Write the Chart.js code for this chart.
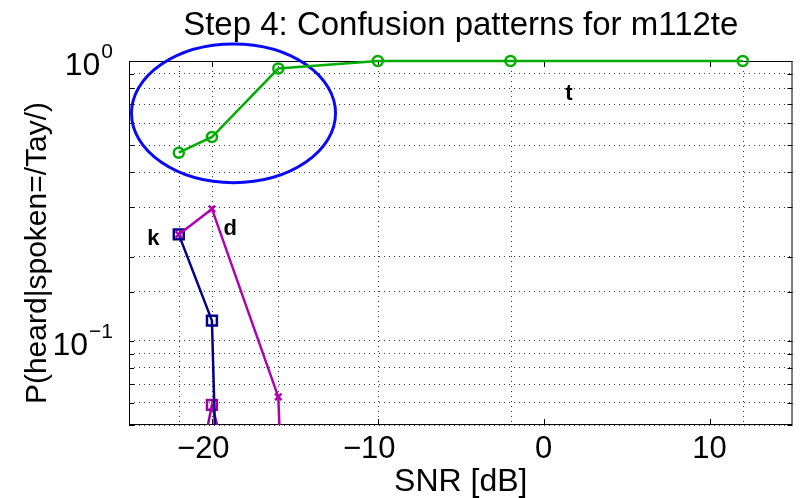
<!DOCTYPE html>
<html>
<head>
<meta charset="utf-8">
<script src="https://cdn.jsdelivr.net/npm/chart.js@4.4.1/dist/chart.umd.min.js"></script>
<style>
  html, body { margin: 0; padding: 0; background: #fff; }
</style>
</head>
<body>
<canvas id="myChart" width="802" height="498"></canvas>
<script>
// measured SNRs and response probabilities for /Tay/
const snrValues = [-22, -20, -16, -10, -2, 12];
const heardT = [0.47, 0.535, 0.94, 1.0, 1.0, 1.0];

const snrK = [-22, -20, -16];
const heardK = [0.24, 0.118, 3e-10];

const snrD = [-22, -20, -16, -10];
const heardD = [0.24, 0.296, 0.063, 4e-11];

const snrOther = [-22, -20, -16];
const heardOther = [0.015, 0.059, 0.007];

const xTickValues = [-20, -10, 0, 10];
const yTickLabels = [
    { value: 1, base: '10', exp: '0' },
    { value: 0.1, base: '10', exp: '\u22121' }
];

const chartTitle = 'Step 4: Confusion patterns for m112te';
const yTitle = 'P(heard|spoken=/Tay/)';

const letterNotes = [
    { text: 'k', x: -23.9, y: 0.22 },
    { text: 'd', x: -19.3, y: 0.239 },
    { text: 't', x: 1.3, y: 0.726 }
];

const ringNote = { x: -18.7, halfWidth: 6.15, top: 1.15, bottom: 0.3675 };

const FONT = "'Liberation Sans', Arial, Helvetica, sans-serif";
Chart.defaults.font.family = FONT;
Chart.defaults.color = '#000';

const toPoints = (xs, ys) => xs.map((x, i) => ({ x: x, y: ys[i] }));

// matlab style box, inward ticks, dotted vertical grid, ring + letters
const matlabAxes = {
    id: 'matlabAxes',
    beforeDatasetsDraw(chart) {
        const { ctx, chartArea: a, scales: { x, y } } = chart;
        ctx.save();
        ctx.lineWidth = 1;
        ctx.strokeStyle = '#333';
        ctx.setLineDash([1, 4]);
        snrValues.forEach(v => {
            const px = Math.round(x.getPixelForValue(v)) + 0.5;
            ctx.beginPath();
            ctx.moveTo(px, a.top);
            ctx.lineTo(px, a.bottom);
            ctx.stroke();
        });
        ctx.setLineDash([]);
        ctx.strokeStyle = '#000';
        y.ticks.forEach(t => {
            const py = Math.round(y.getPixelForValue(t.value)) + 0.5;
            ctx.beginPath();
            ctx.moveTo(a.left, py); ctx.lineTo(a.left + 5, py);
            ctx.moveTo(a.right, py); ctx.lineTo(a.right - 5, py);
            ctx.stroke();
        });
        xTickValues.forEach(v => {
            const px = Math.round(x.getPixelForValue(v)) + 0.5;
            ctx.beginPath();
            ctx.moveTo(px, a.top); ctx.lineTo(px, a.top + 6);
            ctx.moveTo(px, a.bottom); ctx.lineTo(px, a.bottom - 6);
            ctx.stroke();
        });
        ctx.strokeRect(a.left + 0.5, a.top + 0.5, a.right - a.left - 1, a.bottom - a.top - 1);

        // blue ring around the /t/ rise
        const cx = x.getPixelForValue(ringNote.x);
        const rx = x.getPixelForValue(ringNote.x + ringNote.halfWidth) - cx;
        const top = y.getPixelForValue(ringNote.top);
        const bottom = y.getPixelForValue(ringNote.bottom);
        ctx.strokeStyle = '#0a0af5';
        ctx.lineWidth = 3;
        ctx.beginPath();
        ctx.ellipse(cx, (top + bottom) / 2, rx, (bottom - top) / 2, 0, 0, Math.PI * 2);
        ctx.stroke();
        ctx.restore();
    },
    afterDatasetsDraw(chart) {
        const { ctx, chartArea: a, scales: { x, y } } = chart;
        ctx.save();
        ctx.fillStyle = '#000';

        // title centred over the axes, as matlab does
        ctx.font = '33px ' + FONT;
        ctx.textAlign = 'center';
        ctx.textBaseline = 'alphabetic';
        ctx.fillText(chartTitle, (a.left + a.right) / 2, 35);

        ctx.save();
        ctx.translate(38, 253);
        ctx.rotate(-Math.PI / 2);
        ctx.font = '30px ' + FONT;
        ctx.textBaseline = 'middle';
        ctx.fillText(yTitle, 0, 0);
        ctx.restore();

        ctx.font = 'bold 22px ' + FONT;
        ctx.textAlign = 'left';
        ctx.textBaseline = 'alphabetic';
        letterNotes.forEach(n => {
            ctx.fillText(n.text, x.getPixelForValue(n.x), y.getPixelForValue(n.y));
        });

        // y tick labels as 10^n
        const right = a.left - 16;
        yTickLabels.forEach(l => {
            const py = y.getPixelForValue(l.value);
            ctx.font = '21px ' + FONT;
            const expW = ctx.measureText(l.exp).width;
            ctx.textAlign = 'left';
            ctx.fillText(l.exp, right - expW, py - 3);
            ctx.font = '32px ' + FONT;
            ctx.textAlign = 'right';
            ctx.fillText(l.base, right - expW - 1, py + 14);
        });
        ctx.restore();
    }
};

const lineStyle = (color, style, radius) => ({
    borderColor: color,
    pointBorderColor: color,
    pointBackgroundColor: 'rgba(0,0,0,0)',
    pointStyle: style,
    pointRadius: radius,
    pointBorderWidth: 2.5,
    borderWidth: 2.5,
    tension: 0,
    clip: { left: 10, top: 10, right: 10, bottom: 0 }
});

const ctx = document.getElementById('myChart').getContext('2d');

const myChart = new Chart(ctx, {
    type: 'line',
    data: {
        datasets: [
            Object.assign({ label: 't', data: toPoints(snrValues, heardT) }, lineStyle('#00ad00', 'circle', 5)),
            Object.assign({ label: 'd', data: toPoints(snrD, heardD) }, lineStyle('#b000b0', 'crossRot', 4.5)),
            Object.assign({ label: 'k', data: toPoints(snrK, heardK) }, lineStyle('#000088', 'rect', 7)),
            Object.assign({ label: 'other', data: toPoints(snrOther, heardOther) }, lineStyle('#a000a8', 'rect', 7))
        ]
    },
    options: {
        responsive: false,
        animation: false,
        layout: { padding: { left: 0, right: 6, top: 61, bottom: 0 } },
        plugins: {
            legend: { display: false },
            tooltip: { enabled: false },
            title: { display: false }
        },
        scales: {
            x: {
                type: 'linear',
                min: -25,
                max: 15,
                afterBuildTicks: scale => { scale.ticks = xTickValues.map(v => ({ value: v })); },
                afterFit: scale => { scale.height = 73; },
                grid: { display: false, drawTicks: false },
                border: { display: false },
                ticks: {
                    font: { size: 31 },
                    padding: 6,
                    maxRotation: 0,
                    callback: v => v < 0 ? '\u2212' + Math.abs(v) + '\u2007' : String(v)
                },
                title: {
                    display: true,
                    text: 'SNR [dB]',
                    font: { size: 32, lineHeight: 1 },
                    padding: { top: 0, bottom: 0 }
                }
            },
            y: {
                type: 'logarithmic',
                min: 0.05,
                max: 1,
                afterFit: scale => { scale.width = 129; },
                grid: { color: '#333', lineWidth: 1, drawTicks: false },
                border: { display: false, dash: [1, 4] },
                ticks: { display: false },
                title: { display: false }
            }
        }
    },
    plugins: [matlabAxes]
});
</script>
</body>
</html>
